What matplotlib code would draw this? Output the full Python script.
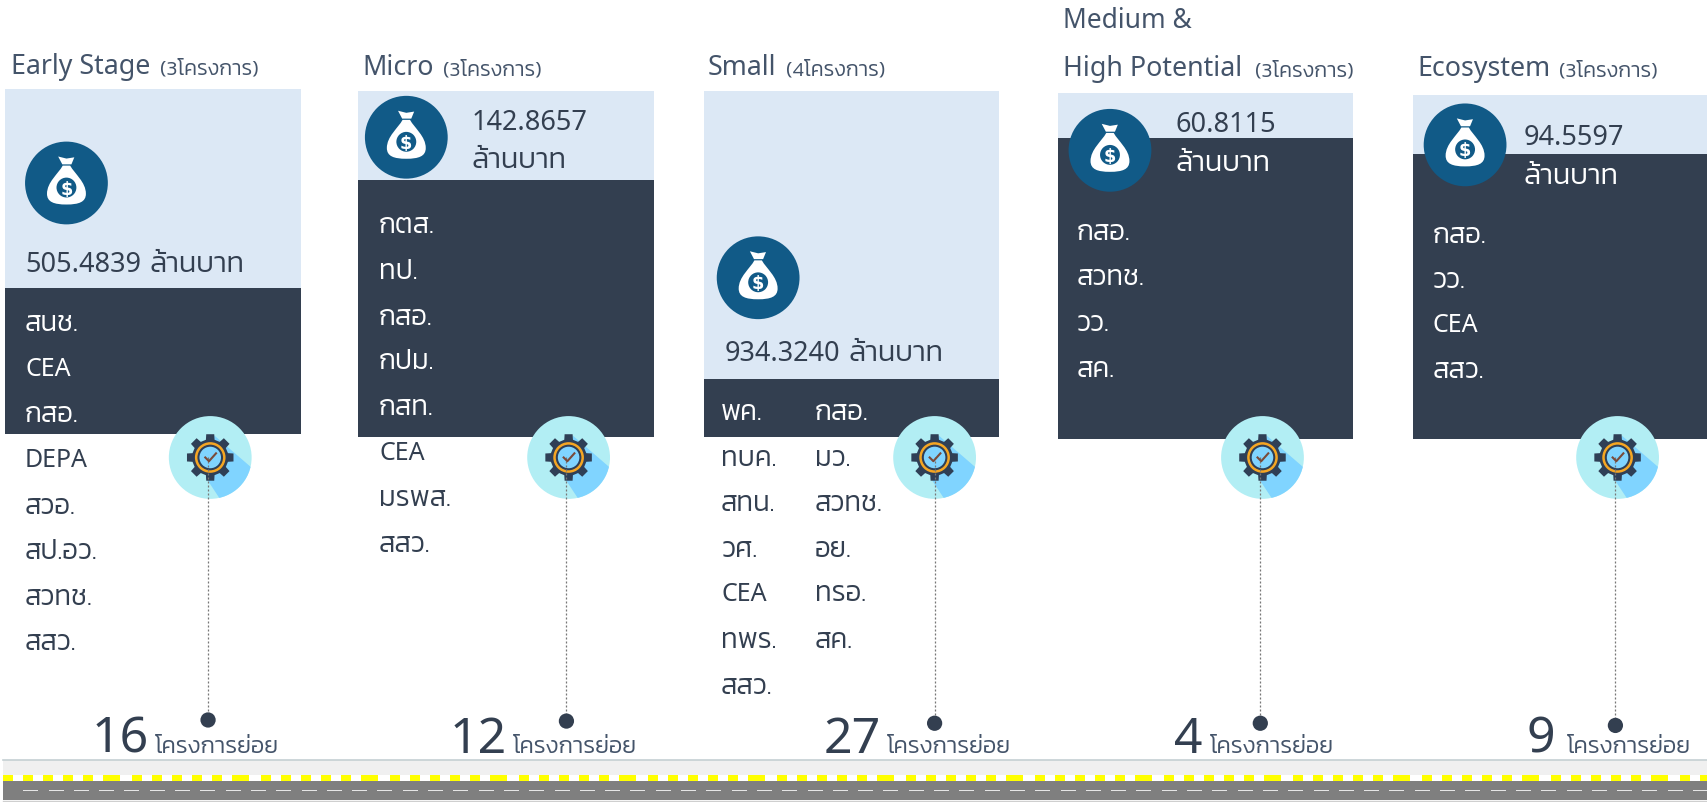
import matplotlib
matplotlib.use('Agg')
import matplotlib.pyplot as plt
from matplotlib import font_manager as fm
from matplotlib.patches import Rectangle, Circle, Polygon, PathPatch
from matplotlib.path import Path
from matplotlib.transforms import Affine2D
import numpy as np

# ---------- data ----------
stages = ['Early Stage', 'Micro', 'Small', 'High Potential', 'Ecosystem']
project_labels = ['(3โครงการ)', '(3โครงการ)', '(4โครงการ)', '(3โครงการ)', '(3โครงการ)']
budgets = ['505.4839', '142.8657', '934.3240', '60.8115', '94.5597']
subproject_counts = ['16', '12', '27', '4', '9']
agencies_early = ['สนช.', 'CEA', 'กสอ.', 'DEPA', 'สวอ.', 'สป.อว.', 'สวทช.', 'สสว.']
agencies_micro = ['กตส.', 'ทป.', 'กสอ.', 'กปม.', 'กสท.', 'CEA', 'มรพส.', 'สสว.']
agencies_small_a = ['พค.', 'ทบค.', 'สทน.', 'วศ.', 'CEA', 'ทพร.', 'สสว.']
agencies_small_b = ['กสอ.', 'มว.', 'สวทช.', 'อย.', 'ทรอ.', 'สค.']
agencies_medium = ['กสอ.', 'สวทช.', 'วว.', 'สค.']
agencies_eco = ['กสอ.', 'วว.', 'CEA', 'สสว.']
BAHT = 'ล้านบาท'
SUB = 'โครงการย่อย'

# ---------- styles ----------
LIGHT = '#DCE8F5'; DARK = '#333F50'; TITLE = '#44546A'; NAVY = '#115A87'
TEAL = '#B2EEF4'; SHADOW = '#80D4FF'; GEAR = '#2F3F56'; RING = '#F5A623'

def by_file(names, fallback):
    for want in names:
        for f in fm.fontManager.ttflist:
            if f.fname.endswith(want):
                return fm.FontProperties(fname=f.fname)
    return fm.FontProperties(family=fallback)
THAI = by_file(['Kanit-Light.ttf'], 'Noto Sans Thai')
LATIN = fm.FontProperties(family='Noto Sans')

fig = plt.figure(figsize=(17.08, 8.02), dpi=100, facecolor='white')
ax = fig.add_axes([0, 0, 1, 1])
ax.set_xlim(0, 1568); ax.set_ylim(736.3, 0); ax.axis('off')

def T(x, y, s, size, color=DARK, font=None, z=6, ha='left'):
    fp = (font or THAI).copy(); fp.set_size(size)
    ax.text(x, y, s, fontproperties=fp, color=color, va='baseline', ha=ha, zorder=z)

def money_icon(cx, cy, r=38):
    ax.add_patch(Circle((cx, cy), r, fc=NAVY, ec='none', zorder=4))
    tr = Affine2D().scale(r).translate(cx, cy) + ax.transData
    M, C, Z = Path.MOVETO, Path.CURVE4, Path.CLOSEPOLY
    bag = [(-0.09, -0.42), (-0.20, -0.22), (-0.47, -0.02), (-0.47, 0.26),
           (-0.47, 0.46), (-0.30, 0.52), (0.0, 0.52),
           (0.30, 0.52), (0.47, 0.46), (0.47, 0.26),
           (0.47, -0.02), (0.20, -0.22), (0.09, -0.42), (-0.09, -0.42)]
    codes = [M, C, C, C, C, C, C, C, C, C, C, C, C, Z]
    ax.add_patch(PathPatch(Path(bag, codes), fc='white', ec='none', transform=tr, zorder=5))
    ax.add_patch(Polygon([(-0.20, -0.64), (0.0, -0.59), (0.19, -0.62), (0.12, -0.45),
                          (-0.10, -0.45)], closed=True, fc='white', ec='none',
                         transform=tr, zorder=5))
    ax.add_patch(Circle((cx, cy + 0.11 * r), 0.24 * r, fc=NAVY, ec='none', zorder=6))
    ax.text(cx, cy + 0.11 * r, '$', color='white', ha='center', va='center_baseline',
            fontsize=r * 0.34, fontweight='bold', family='DejaVu Sans', zorder=7)

def gear_icon(cx, cy, r=38):
    circ = Circle((cx, cy), r, fc=TEAL, ec='none', zorder=3)
    ax.add_patch(circ)
    tr = Affine2D().scale(r).translate(cx, cy) + ax.transData
    sh = Polygon([(0.1, -0.53), (1.2, 0.42), (1.0, 1.0), (0.3, 1.1), (-0.05, 0.57)],
                 closed=True, fc=SHADOW, ec='none', transform=tr, zorder=3.5)
    ax.add_patch(sh); sh.set_clip_path(circ)
    pts = []
    for i in range(8):
        a = i * np.pi / 4
        for da, rad in [(-0.24, 0.44), (-0.17, 0.57), (0.17, 0.57), (0.24, 0.44)]:
            pts.append((rad * np.sin(a + da), -rad * np.cos(a + da)))
    ax.add_patch(Polygon(pts, closed=True, fc=GEAR, ec='none', transform=tr, zorder=4))
    ax.add_patch(Circle((cx, cy), 0.34 * r, fc=GEAR, ec=RING, lw=1.8, zorder=4.2))
    ax.add_patch(Circle((cx, cy), 0.26 * r, fc=SHADOW, ec='none', zorder=4.3))
    ax.plot([cx - 0.12 * r, cx - 0.03 * r, cx + 0.14 * r],
            [cy, cy + 0.09 * r, cy - 0.10 * r], color='#7A4A3A', lw=1.5, zorder=5.7)

panels = [
    dict(x=5, top=82, split=264, bot=398, money=(61, 168), title_y=68, tx=10, px=147),
    dict(x=329, top=84, split=165, bot=401, money=(373, 126), title_y=69, tx=333, px=407),
    dict(x=646, top=84, split=348, bot=401, money=(696, 255), title_y=69, tx=650, px=722),
    dict(x=971, top=85, split=127, bot=403, money=(1019, 138), title_y=70, tx=976, px=1152),
    dict(x=1297, top=87, split=141, bot=403, money=(1345, 133), title_y=70, tx=1301, px=1431),
]
WIDTH = 271
for i, p in enumerate(panels):
    ax.add_patch(Rectangle((p['x'], p['top']), WIDTH, p['split'] - p['top'], fc=LIGHT, ec='none', zorder=1))
    ax.add_patch(Rectangle((p['x'], p['split']), WIDTH, p['bot'] - p['split'], fc=DARK, ec='none', zorder=1))
    money_icon(*p['money'])
    T(p['tx'], p['title_y'], stages[i], 19.3, TITLE, LATIN)
    T(p['px'], p['title_y'], project_labels[i], 15.3, TITLE)
T(976, 26, 'Medium &', 19, TITLE, LATIN)

# budgets: (x, baseline of number, x of unit, baseline of unit)
budget_pos = [(23, 250, 137, 250), (433, 119, 433, 154), (665, 331, 779, 331),
              (1079, 121, 1079, 157), (1399, 133, 1399, 169)]
for i, (nx, ny, ux, uy) in enumerate(budget_pos):
    p = panels[i]
    T(nx, ny, budgets[i], 19.5, DARK, LATIN)
    T(ux, uy, BAHT, 21, 'white' if uy - 8 > p['split'] else DARK)

list_cols = [
    (23, agencies_early, [296, 337, 379, 421, 464, 505, 547, 589], 0),
    (348, agencies_micro, [206, 248, 290, 331, 373, 414, 457, 499], 1),
    (662, agencies_small_a, [378, 420, 461, 503, 544, 587, 629], 2),
    (748, agencies_small_b, [378, 420, 461, 503, 544, 587], 2),
    (988, agencies_medium, [212, 254, 296, 338], 3),
    (1315, agencies_eco, [215, 256, 297, 339], 4),
]
for x, names, ys, pi in list_cols:
    for n, y in zip(names, ys):
        col = 'white' if y < panels[pi]['bot'] else DARK
        if n.isascii():
            T(x, y + 8, n, 18, col, LATIN)
        else:
            T(x, y + 8, n, 20, col)

gears = [(193, 420), (522, 420), (858, 420), (1159, 420), (1485, 420)]
dots = [(191, 661), (520, 662), (858, 664), (1157, 664), (1483, 666)]
count_x = [84, 413, 756, 1078, 1401]
sub_x = [142, 471, 814, 1111, 1438]
for i in range(5):
    gear_icon(*gears[i])
    ax.plot([dots[i][0], dots[i][0]], [gears[i][1], dots[i][1]], color='#777777', lw=0.9,
            ls=(0, (1.6, 1.6)), zorder=5.5)
    ax.add_patch(Circle(dots[i], 7, fc=DARK, ec='none', zorder=6))
    T(count_x[i], 691, subproject_counts[i], 36, DARK, LATIN)
    T(sub_x[i], 691, SUB, 17, TITLE)

# ---------- road ----------
S = 1568 / 1708
x0, x1 = 3, 1568
ax.add_patch(Rectangle((x0, 698), x1 - x0, 14, fc='#F0F0F0', ec='none', zorder=1))
ax.plot([x0, x1], [697.8, 697.8], color='#C5D0D3', lw=1.2, zorder=2)
ax.add_patch(Rectangle((x0, 711.8), x1 - x0, 5, fc='white', ec='none', zorder=1))
ax.add_patch(Rectangle((x0, 716.7), x1 - x0, 17.7, fc='#7F7F7F', ec='none', zorder=1))
ax.plot([x0, x1], [735, 735], color='#CFCFCF', lw=1, zorder=2)
x = x0; k = 0
while x < x1:
    w = 17 * S if k % 6 == 5 else 10 * S
    ax.add_patch(Rectangle((x, 711.8), w, 4.9, fc='#FFFF00', ec='none', zorder=2))
    x += (w + 10 * S + (2 * S if k % 6 == 5 else 0)); k += 1
x = x0 + 20 * S
while x < x1:
    ax.add_patch(Rectangle((x, 725.0), 15 * S, 1.5, fc='#E6E6E6', ec='none', zorder=2))
    x += 25.3 * S

fig.savefig('out.png', dpi=100, facecolor='white')
